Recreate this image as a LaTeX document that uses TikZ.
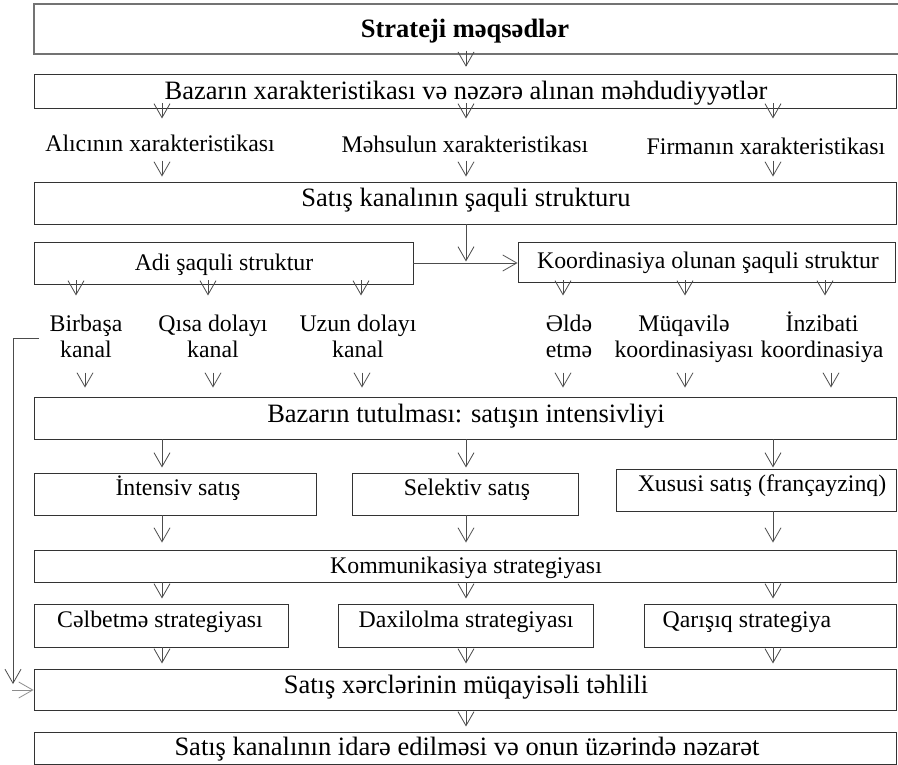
\documentclass[tikz,border=0pt]{standalone}
\usepackage{fontspec}
\setmainfont{Liberation Serif}
\usetikzlibrary{arrows.meta,fit,calc}
\newcommand\fbig{\fontsize{26.5}{30}\selectfont}
\newcommand\fsmall{\fontsize{23.8}{26}\selectfont}
\begin{document}
\begin{tikzpicture}[x=1pt,y=-1pt,
  box/.style={draw=black!80, line width=0.9pt, inner sep=0pt},
  titlebox/.style={draw=black!55, line width=1.5pt, inner sep=0pt},
  txt/.style={anchor=base, inner sep=0pt, text=black},
  big/.style={txt, font=\fbig},
  sm/.style={txt, font=\fsmall, align=center},
  arr/.style={draw=black!70, line width=0.8pt, -{Straight Barb[length=14pt,width=16pt]}},
]
\useasboundingbox (0,0) rectangle (898,765);
\fill[white] (0,0) rectangle (898,765);

% columns of the three main branches
\coordinate (cA) at (162,0);
\coordinate (cB) at (466,0);
\coordinate (cC) at (773,0);
% columns of the channel-type arrows
\coordinate (u1) at (76,0);  \coordinate (u2) at (208,0); \coordinate (u3) at (361,0);
\coordinate (u4) at (563,0); \coordinate (u5) at (685,0); \coordinate (u6) at (825,0);
\coordinate (l1) at (85,0);  \coordinate (l2) at (213,0); \coordinate (l3) at (362,0);
\coordinate (l4) at (563,0); \coordinate (l5) at (685,0); \coordinate (l6) at (831,0);

% boxes
\node[titlebox, fit={(34,4) (899,54)}] (b1) {};
\node[box, fit={(34,74) (896,108)}] (b2) {};
\node[box, fit={(34,182) (896,224)}] (b3) {};
\node[box, fit={(34,242) (413,284)}] (adi) {};
\node[box, fit={(518,242) (895,282)}] (koord) {};
\node[box, fit={(34,397) (896,439)}] (b4) {};
\node[box, fit={(34,473) (316,515)}] (int) {};
\node[box, fit={(352,473) (578,515)}] (sel) {};
\node[box, fit={(616,469) (896,511)}] (xus) {};
\node[box, fit={(34,550) (896,582)}] (kom) {};
\node[box, fit={(34,604) (288,647)}] (cel) {};
\node[box, fit={(338,604) (593,647)}] (dax) {};
\node[box, fit={(644,604) (896,647)}] (qar) {};
\node[box, fit={(34,669) (896,710)}] (b5) {};
\node[box, fit={(34,732) (896,764)}] (b6) {};

% texts (two-line labels are placed by the baseline of their last line)
\node[big, font=\fbig\bfseries] (t1) at (465,38) {Strateji məqsədlər};
\node[big] (t2) at (466,100) {Bazarın xarakteristikası və nəzərə alınan məhdudiyyətlər};
\node[sm] (alic) at (160,152) {Alıcının xarakteristikası};
\node[sm] (mehs) at (465,153) {Məhsulun xarakteristikası};
\node[sm] (firm) at (766,155) {Firmanın xarakteristikası};
\node[big] (t3) at (466,207) {Satış kanalının şaquli strukturu};
\node[sm] (tadi) at (224,270) {Adi şaquli struktur};
\node[sm] (tkoord) at (708,269) {Koordinasiya olunan şaquli struktur};
\node[sm] (birb) at (86,357) {Birbaşa\\kanal};
\node[sm] (qisa) at (213,357) {Qısa dolayı\\kanal};
\node[sm] (uzun) at (358,357) {Uzun dolayı\\kanal};
\node[sm] (elde) at (569,357) {Əldə\\etmə};
\node[sm] (muq) at (684,357) {Müqavilə\\koordinasiyası};
\node[sm] (inz) at (822,357) {İnzibati\\koordinasiya};
\node[big] (t4) at (466,422) {Bazarın tutulması: satışın intensivliyi};
\node[sm] (tint) at (178,495) {İntensiv satış};
\node[sm] (tsel) at (467,495) {Selektiv satış};
\node[sm] (txus) at (762,491) {Xususi satış (françayzinq)};
\node[sm] (tkom) at (466,573) {Kommunikasiya strategiyası};
\node[sm] (tcel) at (160,627) {Cəlbetmə strategiyası};
\node[sm] (tdax) at (466,627) {Daxilolma strategiyası};
\node[sm] (tqar) at (747,627) {Qarışıq strategiya};
\node[big] (t5) at (466,693) {Satış xərclərinin müqayisəli təhlili};
\node[big] (t6) at (467,755) {Satış kanalının idarə edilməsi və onun üzərində nəzarət};

% connectors
\draw[arr] ($(b1.south -| cB)+(0,-4)$) -- ++(0,16);
\foreach \c in {cA,cB,cC} {
  \draw[arr] ($(b2.south -| \c)+(0,-5)$) -- ++(0,15);
  \draw[arr] ($(b3.north -| \c)+(0,-21)$) -- ++(0,16);
  \draw[arr] (b4.south -| \c) -- ++(0,28);
  \draw[arr] (kom.south -| \c) -- ++(0,16);
}
\draw[arr] (b3.south -| cB) -- ++(0,37);
\draw[arr] (adi.east) -- (koord.west |- adi.east);
\foreach \c in {u1,u2,u3} \draw[arr] ($(adi.south -| \c)+(0,-4)$) -- ++(0,15);
\foreach \c in {u4,u5,u6} \draw[arr] ($(koord.south -| \c)+(0,-2)$) -- ++(0,15);
\foreach \c in {l1,l2,l3,l4,l5,l6} \draw[arr] ($(b4.north -| \c)+(0,-24)$) -- ++(0,15);
\draw[arr] (int.south -| cA) -- ($(kom.north -| cA)+(0,-7)$);
\draw[arr] (sel.south -| cB) -- ($(kom.north -| cB)+(0,-7)$);
\draw[arr] (xus.south -| cC) -- ($(kom.north -| cC)+(0,-7)$);
\draw[arr] (cel.south -| cA) -- ++(0,16);
\draw[arr] (dax.south -| cB) -- ++(0,16);
\draw[arr] (qar.south -| cC) -- ++(0,16);
\draw[arr] (b5.south -| cB) -- ++(0,16);

% feedback from the direct channel to the cost analysis
\coordinate (fbA) at (39,338);
\coordinate (fbB) at (13,338);
\coordinate (fbC) at (13,684);
\coordinate (fbD) at (12,690);
\draw[arr] (fbA) -- (fbB) -- (fbC);
\draw[arr, draw=black!45] (fbD) -- (b5.west |- fbD);
\end{tikzpicture}
\end{document}
